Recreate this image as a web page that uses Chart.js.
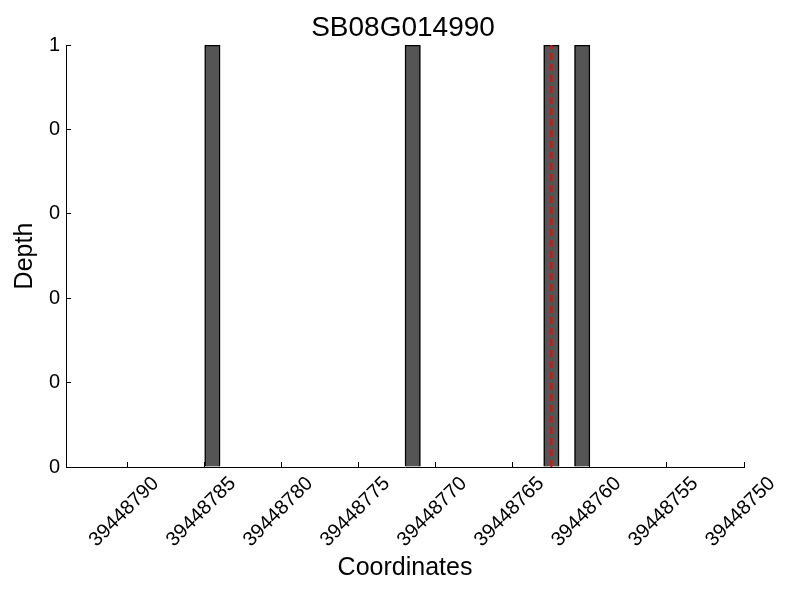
<!DOCTYPE html>
<html>
<head>
<meta charset="utf-8">
<script src="https://cdn.jsdelivr.net/npm/chart.js@4/dist/chart.umd.min.js"></script>
<style>
  html, body { margin: 0; padding: 0; background: #fff; }
  #wrap { width: 800px; height: 600px; }
</style>
</head>
<body>
<div id="wrap"><canvas id="chart" width="800" height="600"></canvas></div>
<script>
// data
const geneName = "SB08G014990";
const barPositions = [39448784.5, 39448771.5, 39448762.5, 39448760.5];
const depthValues = [1, 1, 1, 1];
const markerPositions = [39448762.5];
const markerDepth = [0, 1];
const xRange = [39448750, 39448794];
const yRange = [0, 1];
const xTickStep = 5;
const yTickStep = 0.2;

Chart.defaults.font.family = "'Liberation Sans', Arial, sans-serif";
Chart.defaults.color = "#000";

const axisGrid = {
  display: true,
  drawOnChartArea: false,
  offset: false,
  color: "#000",
  tickLength: -5,
  tickWidth: 1,
};

const markerSets = markerPositions.map((pos) => ({
  type: "line",
  data: markerDepth.map((d) => ({ x: pos, y: d })),
  borderColor: "#ff0000",
  borderWidth: 2,
  borderDash: [7, 4],
  pointRadius: 0,
  fill: false,
  order: 0,
}));

const ctx = document.getElementById("chart").getContext("2d");
new Chart(ctx, {
  type: "bar",
  data: {
    datasets: [
      ...markerSets,
      {
        type: "bar",
        data: barPositions.map((x, i) => ({ x: x, y: depthValues[i] })),
        backgroundColor: "#555555",
        borderColor: "#000",
        borderWidth: 1.5,
        barThickness: 15.4,
        order: 1,
      },
    ],
  },
  options: {
    responsive: false,
    animation: false,
    layout: { padding: { left: 6, right: 0, top: 0, bottom: 0 } },
    plugins: {
      legend: { display: false },
      tooltip: { enabled: false },
      title: {
        display: true,
        text: geneName,
        color: "#000",
        font: { size: 28, weight: "normal" },
        padding: { top: 11.5, bottom: 0 },
      },
    },
    scales: {
      x: {
        type: "linear",
        reverse: true,
        min: xRange[0],
        max: xRange[1],
        offset: false,
        grid: axisGrid,
        border: { display: true, color: "#000", width: 1 },
        ticks: {
          stepSize: xTickStep,
          includeBounds: false,
          autoSkip: false,
          minRotation: 45,
          maxRotation: 45,
          padding: 10,
          labelOffset: 28,
          color: "#000",
          font: { size: 20 },
          callback: (v) => String(v),
        },
        title: {
          display: true,
          text: "Coordinates",
          color: "#000",
          font: { size: 25 },
          padding: { top: 0, bottom: 17 },
        },
        afterFit: (scale) => {
          scale.height = 133;
        },
      },
      y: {
        min: yRange[0],
        max: yRange[1],
        grid: axisGrid,
        border: { display: true, color: "#000", width: 1 },
        ticks: {
          stepSize: yTickStep,
          padding: 11,
          color: "#000",
          font: { size: 20 },
          callback: (v) => String(Math.floor(v + 1e-9)),
        },
        title: {
          display: true,
          text: "Depth",
          color: "#000",
          font: { size: 25 },
          padding: { top: 4, bottom: 0 },
        },
        afterFit: (scale) => {
          scale.width = 60;
        },
      },
      // empty axis on the right, only keeps the plot area off the right edge
      spacer: {
        type: "linear",
        position: "right",
        display: true,
        grid: { display: false },
        border: { display: false },
        ticks: { display: false },
        afterFit: (scale) => {
          scale.width = 56;
        },
      },
    },
  },
});
</script>
</body>
</html>
